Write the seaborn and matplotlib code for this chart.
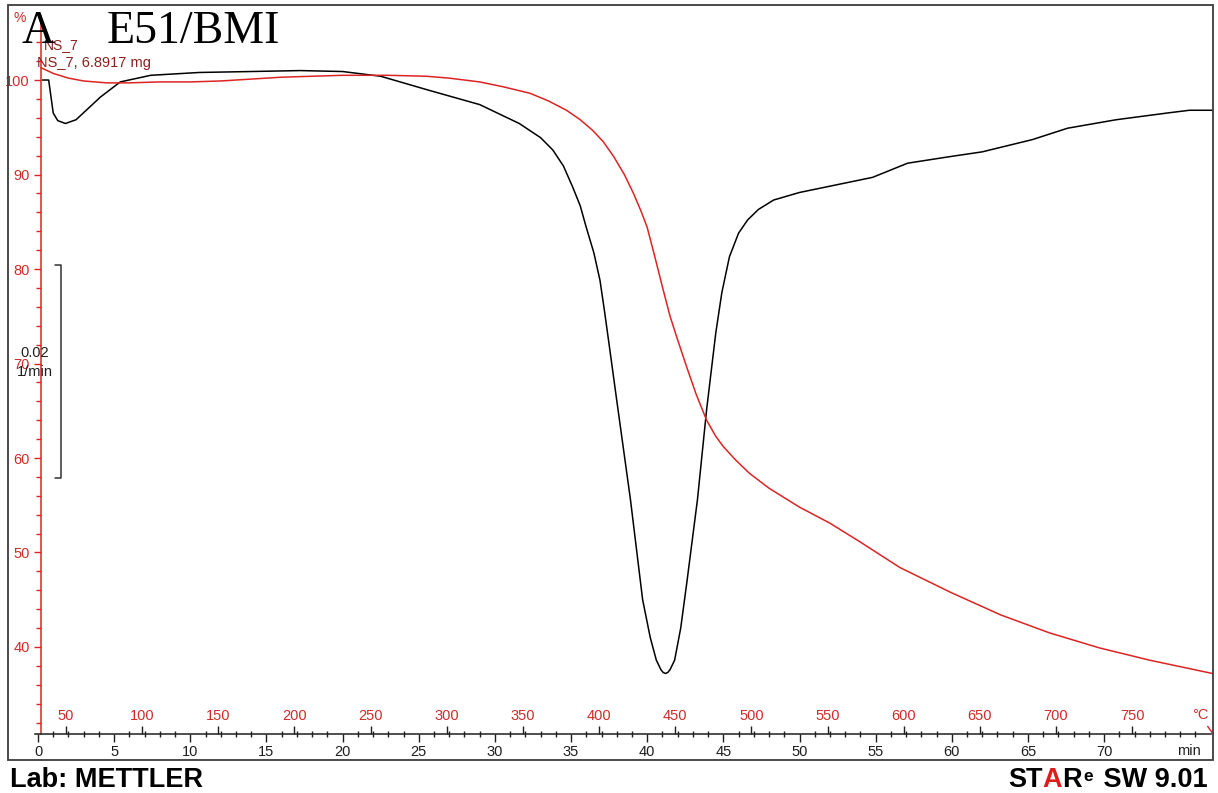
import matplotlib
matplotlib.use("Agg")
import matplotlib.pyplot as plt
from matplotlib.patches import Rectangle
from matplotlib.ticker import FixedLocator
import pandas as pd
import seaborn as sns

# TGA mass loss (%) against time (min)
tga_time = [0.2, 1.0, 2.0, 3.0, 4.5, 6.0, 8.0, 10.0, 12.0, 14.0, 16.0, 18.0, 20.0, 23.0,
            25.5, 27.0, 29.0, 30.5, 32.3, 33.5, 34.7, 35.6, 36.4, 37.1, 37.8, 38.5, 39.1,
            39.6, 40.0, 40.5, 41.0, 41.5, 42.0, 42.6, 43.2, 43.9, 44.5, 45.0, 45.8, 46.7,
            48.0, 50.0, 52.0, 54.0, 56.6, 59.9, 63.2, 66.4, 69.7, 73.0, 77.1]
tga_mass = [101.3, 100.7, 100.2, 99.9, 99.7, 99.7, 99.8, 99.8, 99.9, 100.1, 100.3, 100.4,
            100.5, 100.5, 100.4, 100.2, 99.8, 99.3, 98.6, 97.8, 96.8, 95.8, 94.7, 93.5, 91.9,
            90.0, 88.0, 86.1, 84.4, 81.3, 78.1, 75.0, 72.5, 69.6, 66.8, 64.0, 62.3, 61.2,
            59.8, 58.4, 56.8, 54.8, 53.1, 51.1, 48.4, 45.8, 43.4, 41.5, 39.9, 38.6, 37.2]

# DTG trace, drawn on the same vertical scale (0.02 1/min scale bar)
dtg_time = [0.3, 0.7, 1.0, 1.3, 1.8, 2.5, 3.3, 4.1, 5.4, 7.4, 10.6, 14.0, 17.2, 20.0, 22.5,
            25.7, 29.0, 31.6, 33.0, 33.8, 34.5, 35.1, 35.6, 36.0, 36.5, 36.9, 37.2, 37.5,
            38.0, 38.9, 39.7, 40.2, 40.6, 40.9, 41.05, 41.2, 41.35, 41.5, 41.8, 42.2, 42.6,
            43.3, 43.9, 44.5, 44.9, 45.4, 46.0, 46.6, 47.3, 48.3, 50.0, 53.3, 54.8, 57.1,
            59.9, 62.0, 65.3, 67.6, 70.8, 74.1, 75.6, 77.1]
dtg_value = [100.0, 100.0, 96.5, 95.7, 95.4, 95.8, 97.0, 98.2, 99.8, 100.5, 100.8, 100.9,
             101.0, 100.9, 100.4, 98.9, 97.4, 95.4, 93.9, 92.6, 90.9, 88.7, 86.7, 84.4, 81.7,
             78.8, 75.5, 72.0, 66.1, 55.6, 45.0, 41.0, 38.6, 37.6, 37.3, 37.2, 37.3, 37.6,
             38.6, 42.0, 46.8, 55.6, 65.1, 73.2, 77.5, 81.3, 83.8, 85.2, 86.3, 87.3, 88.1,
             89.2, 89.7, 91.2, 91.9, 92.4, 93.7, 94.9, 95.8, 96.5, 96.8, 96.8]

time_ticks = list(range(0, 75, 5))
time_minor = list(range(0, 77))
temp_ticks = list(range(50, 800, 50))
mass_ticks = list(range(40, 110, 10))
mass_minor = [v for v in range(32, 106, 2) if v % 10]

# heating programme: start temperature and rate (degC, degC/min)
T_START = 31.6
HEAT_RATE = 10.0

RED = "#dd2424"
RED_TXT = "#cf2b2b"
MAROON = "#8e1f1f"
INK = "#1e1e1e"
TICK_FS = 10.5

sns.set_style("white")
plt.rcParams["font.family"] = ["Liberation Sans", "DejaVu Sans"]

W, H = 1218, 793
fig = plt.figure(figsize=(W / 100, H / 100), dpi=100)


def fx(x):
    return x / W


def fy(y):
    return 1 - y / H


XLIM = (-1.97, 77.15)
YLIM = (28.04, 107.94)
AXIS_TIME = 0.2      # time at which the mass axis stands
AXIS_MASS = 30.8     # mass level at which the time axis lies

ax = fig.add_axes([fx(8), fy(760), 1205 / W, 755 / H])
ax.set_facecolor("white")

tga = pd.DataFrame({"time": tga_time, "mass": tga_mass})
dtg = pd.DataFrame({"time": dtg_time, "value": dtg_value})
sns.lineplot(data=dtg, x="time", y="value", ax=ax, color="black", lw=1.1,
             estimator=None, sort=False)
sns.lineplot(data=tga, x="time", y="mass", ax=ax, color=RED, lw=1.1,
             estimator=None, sort=False)

ax.set_xlim(*XLIM)
ax.set_ylim(*YLIM)
ax.set_xlabel("")
ax.set_ylabel("")

# axes crossing inside the frame
ax.spines["top"].set_visible(False)
ax.spines["right"].set_visible(False)
ax.spines["left"].set_position(("data", AXIS_TIME))
ax.spines["left"].set_bounds(AXIS_MASS, 106.8)
ax.spines["left"].set_color(RED)
ax.spines["left"].set_linewidth(1.1)
ax.spines["bottom"].set_position(("data", AXIS_MASS))
ax.spines["bottom"].set_bounds(-0.2, 77.0)
ax.spines["bottom"].set_color(INK)
ax.spines["bottom"].set_linewidth(1.1)

ax.set_yticks(mass_ticks)
ax.set_yticklabels([str(v) for v in mass_ticks])
ax.yaxis.set_minor_locator(FixedLocator(mass_minor))
ax.tick_params(axis="y", which="major", left=True, direction="out", length=5, width=1,
               color=RED, labelcolor=RED_TXT, labelsize=TICK_FS, pad=3)
ax.tick_params(axis="y", which="minor", left=True, direction="out", length=3.5, width=1,
               color=RED)

ax.set_xticks(time_ticks)
ax.set_xticklabels([str(v) for v in time_ticks])
ax.xaxis.set_minor_locator(FixedLocator(time_minor))
ax.tick_params(axis="x", which="major", bottom=True, direction="out", length=6, width=1,
               color=INK, labelcolor=INK, labelsize=TICK_FS, pad=2)
ax.tick_params(axis="x", which="minor", bottom=True, direction="inout", length=5, width=1,
               color=INK)

# temperature scale sharing the time axis line
sec = ax.secondary_xaxis((AXIS_MASS - YLIM[0]) / (YLIM[1] - YLIM[0]),
                         functions=(lambda t: T_START + HEAT_RATE * t,
                                    lambda T: (T - T_START) / HEAT_RATE))
sec.set_alignment("top")
sec.spines["top"].set_visible(False)
sec.spines["bottom"].set_visible(False)
sec.set_xticks(temp_ticks)
sec.set_xticklabels([str(v) for v in temp_ticks])
sec.tick_params(axis="x", which="major", top=True, bottom=False, labeltop=True,
                labelbottom=False, direction="out", length=6, width=1, color=INK,
                labelcolor=RED_TXT, labelsize=TICK_FS, pad=2)
sec.tick_params(axis="x", which="minor", top=False, bottom=False)

# axis units and arrow tip
ax.text(76.3, 32.8, "°C", color=RED_TXT, fontsize=TICK_FS, ha="center", va="center")
ax.text(75.6, 29.0, "min", color=INK, fontsize=TICK_FS, ha="center", va="center")
ax.plot([76.8, 77.15], [31.6, 30.8], color=RED, lw=1.0, clip_on=False)
ax.text(-1.2, 106.6, "%", color=RED_TXT, fontsize=10, ha="center", va="center")

# DTG scale bar
bar_t, bar_tick, bar_top, bar_bot = 1.51, 1.1, 80.4, 57.9
ax.plot([bar_tick, bar_t, bar_t, bar_tick], [bar_top, bar_top, bar_bot, bar_bot],
        color="#333333", lw=1.1)
ax.text(-0.2, 71.1, "0.02", color=INK, fontsize=10.5, ha="center", va="center")
ax.text(-0.2, 69.1, "1/min", color=INK, fontsize=10.5, ha="center", va="center")

# sample annotation
fig.text(fx(44), fy(49), "NS_7", color=MAROON, fontsize=10, va="baseline")
fig.text(fx(37), fy(67), "NS_7, 6.8917 mg", color=MAROON, fontsize=10.5, va="baseline")

# panel title
fig.text(fx(22), fy(43), "A", family=["Liberation Serif"], fontsize=33, va="baseline",
         color="black")
fig.text(fx(107), fy(43), "E51/BMI", family=["Liberation Serif"], fontsize=33,
         va="baseline", color="black")

# outer frame
fig.add_artist(Rectangle((fx(8), fy(760)), 1205 / W, 755 / H, transform=fig.transFigure,
                         fill=False, ec="#3c3c3c", lw=1.3))

# footer
FOOT_Y = 787
fig.text(fx(10), fy(FOOT_Y), "Lab: METTLER", fontsize=19.5, weight="bold", va="baseline",
         color="black")
t1 = fig.text(fx(1008), fy(FOOT_Y), "ST", fontsize=19.5, weight="bold", va="baseline",
              color="black")
t2 = ax.annotate("A", xy=(1, 0), xycoords=t1, va="bottom", ha="left", fontsize=19.5,
                 weight="bold", color="#e01b1b", annotation_clip=False)
t3 = ax.annotate("R", xy=(1, 0), xycoords=t2, va="bottom", ha="left", fontsize=19.5,
                 weight="bold", color="black", annotation_clip=False)
t4 = ax.annotate("e", xy=(1, 0.93), xycoords=t3, va="top", ha="left", fontsize=12.5,
                 weight="bold", color="black", annotation_clip=False,
                 xytext=(1, 0), textcoords="offset points")
t5 = ax.annotate(" SW 9.01", xy=(1, 0), xycoords=(t4, t3), va="bottom", ha="left",
                 fontsize=19.5, weight="bold", color="black", annotation_clip=False,
                 xytext=(2, 0), textcoords="offset points")

fig.savefig("out.png", dpi=100)
